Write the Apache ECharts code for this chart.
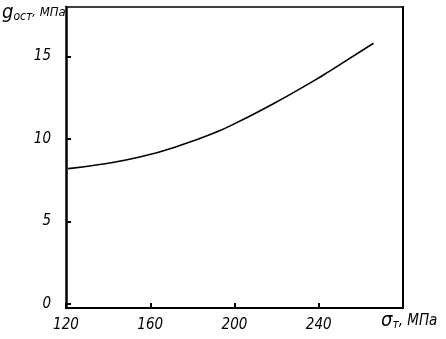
<!DOCTYPE html>
<html>
<head>
<meta charset="utf-8">
<script src="https://cdn.jsdelivr.net/npm/echarts@6/dist/echarts.min.js"></script>
<style>
  html, body { margin: 0; padding: 0; background: #fff; }
  #b { width: 446px; height: 339px; }
</style>
</head>
<body>
<div id="b"></div>
<script>
// sigma_t, MPa
var sigmaT = [121, 136, 155, 174, 192, 202, 218, 238, 245, 266];
// residual, MPa
var qOst = [8.2, 8.45, 8.9, 9.6, 10.45, 11.05, 12.1, 13.55, 14.1, 15.8];
var xTicks = [120, 160, 200, 240];
var yTicks = [0, 5, 10, 15];

var fnt = '"DejaVu Sans Condensed", "Liberation Sans Narrow", "Liberation Sans", sans-serif';

function draw() {
  var myChart = echarts.init(document.getElementById('b'));
  var pts = sigmaT.map(function (v, i) { return [v, qOst[i]]; });
  var option = {
    animation: false,
    grid: { left: 66, right: 43, top: 7, bottom: 31 },
    xAxis: [
      {
        type: 'value', min: 120, max: 280,
        axisLine: { show: true, onZero: false, lineStyle: { color: '#000', width: 2 } },
        axisTick: { show: true, inside: true, length: 5, customValues: xTicks, lineStyle: { color: '#000', width: 2 } },
        axisLabel: {
          customValues: xTicks, margin: 10, color: '#000',
          fontFamily: fnt, fontStyle: 'italic', fontSize: 15
        },
        splitLine: { show: false }
      },
      {
        type: 'value', position: 'top', min: 120, max: 280,
        axisLine: { show: true, onZero: false, lineStyle: { color: '#000', width: 1.5 } },
        axisTick: { show: false }, axisLabel: { show: false }, splitLine: { show: false }
      }
    ],
    yAxis: [
      {
        type: 'value', min: -0.25, max: 18,
        axisLine: { show: true, onZero: false, lineStyle: { color: '#000', width: 2.5 } },
        axisTick: { show: true, inside: true, length: 5, customValues: yTicks, lineStyle: { color: '#000', width: 2 } },
        axisLabel: {
          customValues: yTicks, margin: 15, color: '#000',
          fontFamily: fnt, fontStyle: 'italic', fontSize: 15
        },
        splitLine: { show: false }
      },
      {
        type: 'value', position: 'right', min: -0.25, max: 18,
        axisLine: { show: true, onZero: false, lineStyle: { color: '#000', width: 2 } },
        axisTick: { show: false }, axisLabel: { show: false }, splitLine: { show: false }
      }
    ],
    series: [
      {
        type: 'line', data: pts, smooth: true, showSymbol: false,
        lineStyle: { color: '#000', width: 1.6 }
      }
    ],
    graphic: [
      {
        type: 'text', left: 2, top: 3,
        style: {
          text: '{a|g}{b|ост}{c|, МПа}',
          rich: {
            a: { fontFamily: fnt, fontStyle: 'italic', fontSize: 20, fill: '#000' },
            b: { fontFamily: fnt, fontStyle: 'italic', fontSize: 12, fill: '#000', padding: [8, 0, 0, 0] },
            c: { fontFamily: fnt, fontStyle: 'italic', fontSize: 13, fill: '#000' }
          }
        }
      },
      {
        type: 'text', left: 381, top: 311,
        style: {
          text: '{a|σ}{b|т}{c|, МПа}',
          rich: {
            a: { fontFamily: fnt, fontStyle: 'italic', fontSize: 20, fill: '#000' },
            b: { fontFamily: fnt, fontStyle: 'italic', fontSize: 12, fill: '#000', padding: [8, 0, 0, 0] },
            c: { fontFamily: fnt, fontStyle: 'italic', fontSize: 15, fill: '#000' }
          }
        }
      }
    ]
  };
  option && myChart.setOption(option);
}
draw();
</script>
</body>
</html>
